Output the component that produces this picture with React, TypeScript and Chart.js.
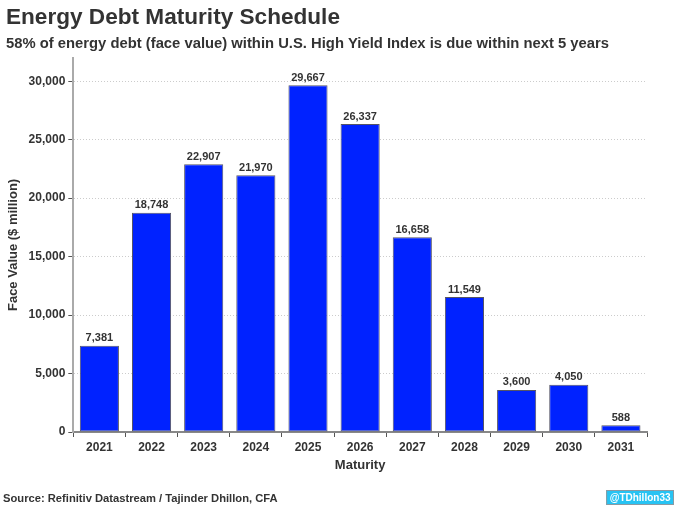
import React, { useEffect, useRef } from "react";
import { Chart, registerables } from "chart.js";

Chart.register(...registerables);

const categories = ["2021", "2022", "2023", "2024", "2025", "2026", "2027", "2028", "2029", "2030", "2031"];
const faceValues = [7381, 18748, 22907, 21970, 29667, 26337, 16658, 11549, 3600, 4050, 588];
const yTickValues = [0, 5000, 10000, 15000, 20000, 25000, 30000];
const titleText = "Energy Debt Maturity Schedule";
const subtitleText = "58% of energy debt (face value) within U.S. High Yield Index is due within next 5 years";
const sourceText = "Source: Refinitiv Datastream / Tajinder Dhillon, CFA";
const badgeText = "@TDhillon33";

const FONT = "'Liberation Sans', Arial, sans-serif";

const labelPlugin = {
  id: "barLabels",
  afterDatasetsDraw(chart: any) {
    const ctx = chart.ctx;
    const meta = chart.getDatasetMeta(0);
    ctx.save();
    ctx.font = `bold 11px ${FONT}`;
    ctx.fillStyle = "#333333";
    ctx.textAlign = "center";
    ctx.textBaseline = "bottom";
    meta.data.forEach((el: any, i: number) => {
      const v = chart.data.datasets[0].data[i] as number;
      ctx.fillText(v.toLocaleString("en-US"), el.x, el.y - 2);
    });
    ctx.restore();
  },
};

const footerPlugin = {
  id: "footerPlugin",
  afterDraw(chart: any) {
    const ctx = chart.ctx;
    const w = chart.width;
    ctx.save();
    ctx.font = `bold 11.2px ${FONT}`;
    ctx.fillStyle = "#333333";
    ctx.textAlign = "left";
    ctx.textBaseline = "alphabetic";
    ctx.fillText(sourceText, 3, 502);
    // badge
    ctx.font = `bold 10px ${FONT}`;
    const tw = ctx.measureText(badgeText).width;
    const bw = tw + 7;
    const bx = w - 3 - bw;
    const by = 490;
    const bh = 15;
    ctx.fillStyle = "#27c3f3";
    ctx.fillRect(bx, by, bw, bh);
    ctx.strokeStyle = "#8a9aa3";
    ctx.lineWidth = 1;
    ctx.strokeRect(bx + 0.5, by + 0.5, bw - 1, bh - 1);
    ctx.fillStyle = "#ffffff";
    ctx.textAlign = "center";
    ctx.textBaseline = "middle";
    ctx.fillText(badgeText, bx + bw / 2, by + bh / 2 + 0.5);
    ctx.restore();
  },
};

export default function App() {
  const ref = useRef<HTMLCanvasElement | null>(null);
  useEffect(() => {
    if (!ref.current) return;
    const chart = new Chart(ref.current, {
      type: "bar",
      data: {
        labels: categories,
        datasets: [
          {
            data: faceValues,
            backgroundColor: "#0022ff",
            borderColor: "#555566",
            borderWidth: 1,
            borderSkipped: false,
            categoryPercentage: 1,
            barPercentage: 0.75,
          },
        ],
      },
      options: {
        animation: false,
        responsive: true,
        maintainAspectRatio: false,
        layout: { padding: { left: 6, right: 30, top: 0, bottom: 31 } },
        plugins: {
          legend: { display: false },
          tooltip: { enabled: false },
          title: {
            display: true,
            text: titleText,
            align: "start",
            color: "#333333",
            font: { family: FONT, size: 22.6, weight: "bold" },
            padding: { top: 4, bottom: 4 },
          },
          subtitle: {
            display: true,
            text: subtitleText,
            align: "start",
            color: "#333333",
            font: { family: FONT, size: 14.8, weight: "bold" },
            padding: { top: 0, bottom: 5 },
          },
        },
        scales: {
          x: {
            grid: { display: true, drawOnChartArea: false, drawTicks: true, tickLength: 5, color: "#555555" },
            border: { display: true, color: "#888888", width: 2 },
            ticks: { color: "#333333", font: { family: FONT, size: 12, weight: "bold" }, padding: 3 },
            title: {
              display: true,
              text: "Maturity",
              color: "#333333",
              font: { family: FONT, size: 13, weight: "bold" },
              padding: { top: 0, bottom: 3 },
            },
          },
          y: {
            min: 0,
            max: 32000,
            afterBuildTicks(scale: any) {
              scale.ticks = yTickValues.map((v) => ({ value: v }));
            },
            grid: {
              color: "#cccccc",
              tickColor: "#555555",
              tickLength: 5,
              tickBorderDash: [],
              lineWidth: 1,
            },
            border: { display: true, color: "#aaaaaa", width: 2, dash: [1, 2] },
            ticks: {
              color: "#333333",
              font: { family: FONT, size: 12, weight: "bold" },
              padding: 3,
              callback: (v: any) => Number(v).toLocaleString("en-US"),
            },
            title: {
              display: true,
              text: "Face Value ($ million)",
              color: "#333333",
              font: { family: FONT, size: 13, weight: "bold" },
              padding: { top: 0, bottom: 4 },
            },
          },
        },
      },
      plugins: [labelPlugin, footerPlugin],
    });
    return () => chart.destroy();
  }, []);
  return (
    <div style={{ position: "fixed", left: 0, top: 0, width: 677, height: 507, background: "#ffffff" }}>
      <canvas ref={ref} />
    </div>
  );
}
